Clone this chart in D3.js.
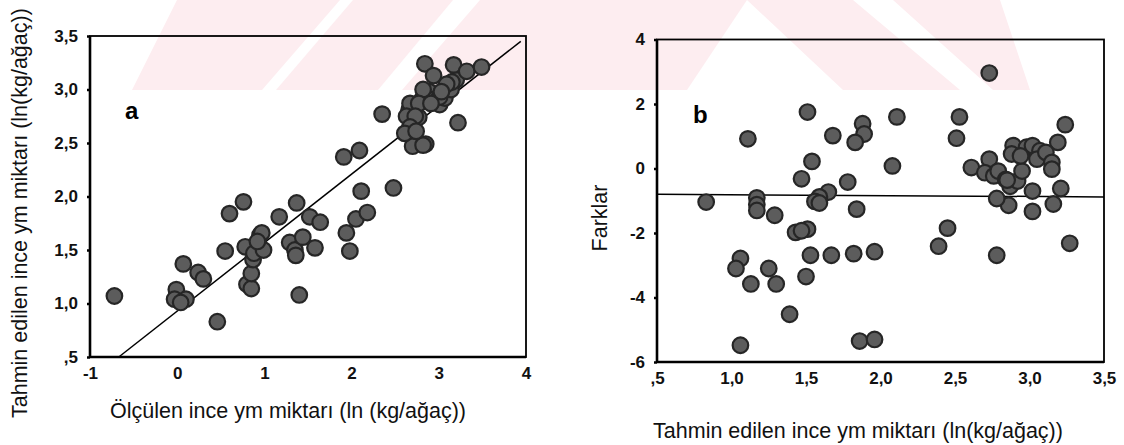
<!DOCTYPE html>
<html>
<head>
<meta charset="utf-8">
<script src="https://cdn.jsdelivr.net/npm/d3@7"></script>
<style>
  body { margin: 0; background: #fff; }
  svg { display: block; font-family: "Liberation Sans", Arial, sans-serif; }
  .tick text { font-size: 17px; font-weight: bold; fill: #111; }
  .domain { display: none; }
  .tick line { stroke: #000; stroke-width: 2.5; }
  .axisTitle { font-size: 21.5px; fill: #111; }
  .panelLabel { font-size: 24px; font-weight: bold; fill: #000; }
  .frame { fill: none; stroke: #000; stroke-width: 1.8; }
  .fit { fill: none; stroke: #000; stroke-width: 1.5; }
  .dot { fill: #5c5c5c; stroke: #262626; stroke-width: 2.2; }
</style>
</head>
<body>
<div id="graph"></div>
<script>
//
// Panel a: measured (x) vs predicted (y), ln(kg/tree)
//
var aMeasured = [
  -0.72, 0.46, -0.01, -0.03, 0.10, 0.04, 0.07, 0.24, 0.30, 0.55,
   0.60, 0.76, 0.78, 0.80, 0.85, 0.85, 0.87, 0.88, 0.95, 0.99,
   0.97, 0.92, 1.17, 1.37, 1.29, 1.35, 1.44, 1.36, 1.52, 1.64,
   1.58, 1.40, 1.94, 1.98, 2.05, 2.18, 2.11, 1.91, 2.09, 2.48,
   2.35, 2.64, 2.70, 2.85, 2.66, 2.77, 2.81, 2.89, 2.95, 3.01,
   3.07, 3.14, 3.20, 3.22, 2.84, 2.94, 3.17, 3.32, 3.49, 3.15,
   2.82, 3.01, 2.67, 2.77, 2.63, 2.73, 2.67, 2.61, 2.82, 3.09,
   2.91, 3.03, 2.74
];
var aPredicted = [
   1.07, 0.83, 1.13, 1.04, 1.04, 1.01, 1.37, 1.29, 1.23, 1.49,
   1.84, 1.95, 1.53, 1.18, 1.14, 1.28, 1.41, 1.47, 1.64, 1.50,
   1.66, 1.58, 1.81, 1.94, 1.57, 1.50, 1.62, 1.45, 1.81, 1.76,
   1.52, 1.08, 1.66, 1.49, 1.79, 1.85, 2.05, 2.37, 2.43, 2.08,
   2.77, 2.60, 2.47, 2.49, 2.81, 2.74, 2.91, 2.98, 2.91, 2.86,
   2.92, 3.00, 3.09, 2.69, 3.24, 3.13, 3.23, 3.17, 3.21, 3.07,
   3.00, 2.93, 2.87, 2.87, 2.75, 2.75, 2.65, 2.59, 2.48, 3.05,
   2.87, 2.98, 2.61
];
// fitted line end points
var aFitX = [-0.67, 3.94];
var aFitY = [0.50, 3.45];

var aXTicks      = [-1, 0, 1, 2, 3, 4];
var aXTickLabels = ['-1', '0', '1', '2', '3', '4'];
var aYTicks      = [0.5, 1.0, 1.5, 2.0, 2.5, 3.0, 3.5];
var aYTickLabels = [',5', '1,0', '1,5', '2,0', '2,5', '3,0', '3,5'];

//
// Panel b: predicted (x) vs differences (y)
//
var bPredicted = [
  2.73, 1.51, 2.11, 2.53, 2.51, 1.11, 1.68, 1.88, 1.89, 1.83,
  3.24, 3.19, 2.08, 1.54, 1.47, 1.78, 1.65, 1.59, 1.56, 1.59,
  0.83, 1.17, 1.17, 1.17, 1.29, 1.84, 1.43, 1.51, 1.47, 1.53,
  1.67, 1.82, 1.96, 1.06, 1.03, 1.25, 1.13, 1.30, 1.50, 1.39,
  1.06, 1.86, 1.96, 2.39, 2.45, 2.78, 3.27, 3.21, 3.16, 3.02,
  3.02, 2.86, 2.78, 2.61, 2.73, 2.70, 2.76, 2.79, 2.84, 2.87,
  2.92, 2.95, 2.89, 2.98, 3.02, 3.07, 3.05, 3.11, 3.15, 3.15,
  2.88, 2.94, 2.85
];
var bDifference = [
   2.96, 1.75, 1.60, 1.60, 0.94, 0.92, 1.02, 1.39, 1.07, 0.81,
   1.36, 0.81, 0.08, 0.22, -0.32, -0.42, -0.73, -0.88, -1.02, -1.07,
  -1.04, -0.91, -1.12, -1.30, -1.45, -1.26, -1.98, -1.88, -1.93, -2.69,
  -2.69, -2.64, -2.58, -2.79, -3.10, -3.10, -3.58, -3.58, -3.35, -4.52,
  -5.48, -5.35, -5.30, -2.41, -1.85, -2.69, -2.32, -0.62, -1.10, -1.33,
  -0.70, -1.14, -0.93, 0.03, 0.29, -0.13, -0.23, -0.08, -0.34, -0.55,
  -0.39, -0.08, 0.71, 0.66, 0.71, 0.55, 0.29, 0.50, 0.19, -0.02,
   0.45, 0.39, -0.36
];
var bFitX = [0.5, 3.5];
var bFitY = [-0.80, -0.88];

var bXTicks      = [0.5, 1.0, 1.5, 2.0, 2.5, 3.0, 3.5];
var bXTickLabels = [',5', '1,0', '1,5', '2,0', '2,5', '3,0', '3,5'];
var bYTicks      = [-6, -4, -2, 0, 2, 4];
var bYTickLabels = ['-6', '-4', '-2', '0', '2', '4'];

// faint background watermark (scanned thesis page)
var watermark = [
  [[177, 0], [340, 0], [262, 90], [132, 90]],
  [[353, 0], [453, 0], [378, 90], [276, 90]],
  [[480, 0], [747, 0], [687, 90], [402, 90]],
  [[747, 0], [853, 0], [960, 90], [843, 90]],
  [[893, 0], [1000, 0], [1030, 90], [993, 90]]
];

var W = 1124, H = 445;

var svg = d3.select('#graph')
            .append('svg')
            .attr('width', W)
            .attr('height', H);

svg.selectAll('polygon.wm')
   .data(watermark)
   .enter()
   .append('polygon')
   .attr('class', 'wm')
   .attr('points', function (d) { return d.join(' '); })
   .attr('fill', '#fdedf0');

function drawPanel (cfg)
{
    var xScale = d3.scaleLinear().domain(cfg.xDomain).range([cfg.left, cfg.right]);
    var yScale = d3.scaleLinear().domain(cfg.yDomain).range([cfg.bottom, cfg.top]);

    var g = svg.append('g');

    var xAxis = d3.axisBottom(xScale)
                  .tickValues(cfg.xTicks)
                  .tickFormat(function (d, i) { return cfg.xTickLabels[i]; })
                  .tickSize(0)
                  .tickPadding(10);

    var yAxis = d3.axisLeft(yScale)
                  .tickValues(cfg.yTicks)
                  .tickFormat(function (d, i) { return cfg.yTickLabels[i]; })
                  .tickSize(3)
                  .tickPadding(9);

    g.append('g')
     .attr('class', 'x axis')
     .attr('transform', 'translate(0,' + cfg.bottom + ')')
     .call(xAxis);

    g.append('g')
     .attr('class', 'y axis')
     .attr('transform', 'translate(' + cfg.left + ',0)')
     .call(yAxis);

    // frame
    g.append('rect')
     .attr('class', 'frame')
     .attr('x', cfg.left)
     .attr('y', cfg.top)
     .attr('width', cfg.right - cfg.left)
     .attr('height', cfg.bottom - cfg.top);

    g.append('line')
     .attr('x1', cfg.left).attr('x2', cfg.left)
     .attr('y1', cfg.top).attr('y2', cfg.bottom)
     .attr('stroke', '#000').attr('stroke-width', 2.6);

    g.append('line')
     .attr('x1', cfg.left).attr('x2', cfg.right)
     .attr('y1', cfg.bottom).attr('y2', cfg.bottom)
     .attr('stroke', '#000').attr('stroke-width', 2.6);

    // fitted line
    var line = d3.line()
                 .x(function (d) { return xScale(d.x); })
                 .y(function (d) { return yScale(d.y); });

    g.append('path')
     .datum(cfg.fitX.map(function (x, i) { return { x: x, y: cfg.fitY[i] }; }))
     .attr('class', 'fit')
     .attr('d', line);

    // points
    g.selectAll('circle.dot')
     .data(cfg.xs.map(function (x, i) { return { x: x, y: cfg.ys[i] }; }))
     .enter()
     .append('circle')
     .attr('class', 'dot')
     .attr('cx', function (d) { return xScale(d.x); })
     .attr('cy', function (d) { return yScale(d.y); })
     .attr('r', 7.8);

    g.append('text')
     .attr('class', 'panelLabel')
     .attr('x', cfg.labelX)
     .attr('y', cfg.labelY)
     .text(cfg.label);

    g.append('text')
     .attr('class', 'axisTitle')
     .style('text-anchor', 'middle')
     .attr('x', cfg.xTitleX)
     .attr('y', cfg.xTitleY)
     .text(cfg.xTitle);

    g.append('text')
     .attr('class', 'axisTitle')
     .style('text-anchor', cfg.yTitleAnchor)
     .attr('transform', 'rotate(-90)')
     .attr('x', -cfg.yTitlePos)
     .attr('y', cfg.yTitleX)
     .text(cfg.yTitle);
}

drawPanel({
    left: 90, right: 526, top: 36, bottom: 357,
    xDomain: [-1, 4], yDomain: [0.5, 3.5],
    xTicks: aXTicks, xTickLabels: aXTickLabels,
    yTicks: aYTicks, yTickLabels: aYTickLabels,
    xs: aMeasured, ys: aPredicted,
    fitX: aFitX, fitY: aFitY,
    label: 'a', labelX: 125, labelY: 119,
    xTitle: 'Ölçülen ince ym miktarı (ln (kg/ağaç))', xTitleX: 288, xTitleY: 418,
    yTitle: 'Tahmin edilen ince ym miktarı (ln(kg/ağaç))', yTitleAnchor: 'start',
    yTitlePos: 418, yTitleX: 27
});

drawPanel({
    left: 657, right: 1104, top: 39.5, bottom: 362,
    xDomain: [0.5, 3.5], yDomain: [-6, 4],
    xTicks: bXTicks, xTickLabels: bXTickLabels,
    yTicks: bYTicks, yTickLabels: bYTickLabels,
    xs: bPredicted, ys: bDifference,
    fitX: bFitX, fitY: bFitY,
    label: 'b', labelX: 693, labelY: 123,
    xTitle: 'Tahmin edilen ince ym miktarı (ln(kg/ağaç))', xTitleX: 858, xTitleY: 438,
    yTitle: 'Farklar', yTitleAnchor: 'middle',
    yTitlePos: 218, yTitleX: 607
});
</script>
</body>
</html>
